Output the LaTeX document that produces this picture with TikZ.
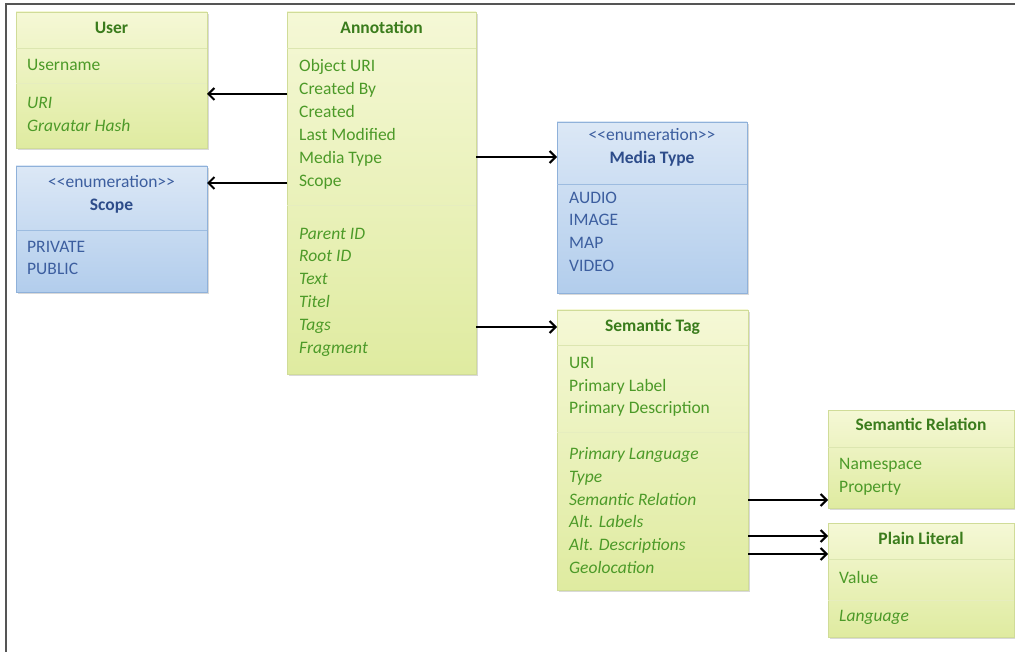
\documentclass[tikz,border=0pt]{standalone}
\usepackage{fontspec}
\setmainfont{Carlito}
\usetikzlibrary{arrows.meta,calc,shadows}
\definecolor{gtxt}{HTML}{4C9A28}
\definecolor{gttl}{HTML}{3A7C1C}
\definecolor{gtop}{HTML}{F5F8D6}
\definecolor{gbot}{HTML}{DFEBA0}
\definecolor{gborder}{HTML}{D0DC98}
\definecolor{gline}{HTML}{DCE6B0}
\definecolor{btxt}{HTML}{3C5E9F}
\definecolor{bttl}{HTML}{2D4C8A}
\definecolor{btop}{HTML}{DCE8F6}
\definecolor{bbot}{HTML}{B2CDEC}
\definecolor{bborder}{HTML}{8FB1DA}
\definecolor{bline}{HTML}{9DBCE0}
\definecolor{frame}{HTML}{555555}
\newcommand{\fsz}{\fontsize{17.5}{21}\selectfont}
\begin{document}
\begin{tikzpicture}[x=1pt,y=-1pt,
  font=\fsz,
  boxbase/.style={anchor=north west, inner sep=0pt, outer sep=0pt, line width=0.8pt,
    drop shadow={shadow xshift=1.5pt, shadow yshift=-1.8pt, opacity=0.3}},
  gbox/.style={boxbase, draw=gborder, top color=gtop, bottom color=gbot},
  bbox/.style={boxbase, draw=bborder, top color=btop, bottom color=bbot},
  txt/.style={inner sep=0pt, text height=1.55ex, text depth=0.45ex, yshift=-1pt},
  gattr/.style={txt, anchor=west, text=gtxt},
  gital/.style={gattr, font=\fsz\itshape},
  gtitle/.style={txt, anchor=center, text=gttl, font=\fsz\bfseries},
  battr/.style={txt, anchor=west, text=btxt},
  bstereo/.style={txt, anchor=center, text=btxt},
  btitle/.style={txt, anchor=center, text=bttl, font=\fsz\bfseries},
  gdiv/.style={draw=gline, line width=0.8pt},
  gfaint/.style={draw=gline!60!gtop, line width=0.6pt},
  bdiv/.style={draw=bline, line width=0.8pt},
  assoc/.style={draw=black, line width=2.6pt, -{Straight Barb[length=6pt,width=12pt,line width=2pt]}}
]
\useasboundingbox (0,0) rectangle (1015,652);
% frame
\draw[frame, line width=2pt] (6,652) -- (6,4) -- (1015,4);

% ---------- User ----------
\node[gbox, minimum width=191pt, minimum height=136pt] (user) at (16,12) {};
\draw[gdiv] (16,48) -- (207,48);
\draw[gfaint] (16,83) -- (207,83);
\node[gtitle] (userT) at (111.5,30) {User};
\node[gattr] (userA1) at (27,67) {Username};
\node[gital] (userA2) at (27,105) {URI};
\node[gital] (userA3) at (27,128) {Gravatar Hash};

% ---------- Scope ----------
\node[bbox, minimum width=191pt, minimum height=126pt] (scope) at (16,166) {};
\draw[bdiv] (16,230) -- (207,230);
\node[bstereo] (scopeS) at (111.5,184) {{<}{<}enumeration{>}{>}};
\node[btitle] (scopeT) at (111.5,207) {Scope};
\node[battr] (scopeA1) at (27,249) {PRIVATE};
\node[battr] (scopeA2) at (27,271) {PUBLIC};

% ---------- Annotation ----------
\node[gbox, minimum width=189pt, minimum height=362pt] (annotation) at (287,12) {};
\draw[gdiv] (287,48) -- (476,48);
\draw[gfaint] (287,205) -- (476,205);
\node[gtitle] (annT) at (381.5,30) {Annotation};
\node[gattr] (annA1) at (299,68) {Object URI};
\node[gattr] (annA2) at (299,91) {Created By};
\node[gattr] (annA3) at (299,114) {Created};
\node[gattr] (annA4) at (299,137) {Last Modified};
\node[gattr] (annA5) at (299,160) {Media Type};
\node[gattr] (annA6) at (299,183) {Scope};
\node[gital] (annB1) at (299,236) {Parent ID};
\node[gital] (annB2) at (299,258) {Root ID};
\node[gital] (annB3) at (299,281) {Text};
\node[gital] (annB4) at (299,304) {Titel};
\node[gital] (annB5) at (299,327) {Tags};
\node[gital] (annB6) at (299,350) {Fragment};

% ---------- Media Type ----------
\node[bbox, minimum width=190pt, minimum height=171pt] (media) at (557,122) {};
\draw[bdiv] (557,184) -- (747,184);
\node[bstereo] (mediaS) at (652,137) {{<}{<}enumeration{>}{>}};
\node[btitle] (mediaT) at (652,160) {Media Type};
\node[battr] (mediaA1) at (569,200) {AUDIO};
\node[battr] (mediaA2) at (569,222) {IMAGE};
\node[battr] (mediaA3) at (569,245) {MAP};
\node[battr] (mediaA4) at (569,268) {VIDEO};

% ---------- Semantic Tag ----------
\node[gbox, minimum width=191pt, minimum height=280pt] (semtag) at (557,310) {};
\draw[gdiv] (557,345) -- (748,345);
\draw[gfaint] (557,432) -- (748,432);
\node[gtitle] (stT) at (652.5,328) {Semantic Tag};
\node[gattr] (stA1) at (569,365) {URI};
\node[gattr] (stA2) at (569,388) {Primary Label};
\node[gattr] (stA3) at (569,410) {Primary Description};
\node[gital] (stB1) at (569,456) {Primary Language};
\node[gital] (stB2) at (569,479) {Type};
\node[gital] (stB3) at (569,502) {Semantic Relation};
\node[gital] (stB4) at (569,524) {Alt. Labels};
\node[gital] (stB5) at (569,547) {Alt. Descriptions};
\node[gital] (stB6) at (569,570) {Geolocation};

% ---------- Semantic Relation ----------
\node[gbox, minimum width=186pt, minimum height=98pt] (semrel) at (828,410) {};
\draw[gdiv] (828,447) -- (1014,447);
\node[gtitle] (srT) at (921,427) {Semantic Relation};
\node[gattr] (srA1) at (839,466) {Namespace};
\node[gattr] (srA2) at (839,489) {Property};

% ---------- Plain Literal ----------
\node[gbox, minimum width=186pt, minimum height=114pt] (plain) at (828,523) {};
\draw[gdiv] (828,559) -- (1014,559);
\draw[gfaint] (828,600) -- (1014,600);
\node[gtitle] (plT) at (921,541) {Plain Literal};
\node[gattr] (plA1) at (839,580) {Value};
\node[gital] (plA2) at (839,618) {Language};

% ---------- Connectors ----------
\draw[assoc] ($(annotation.north west)+(0,82)$) -- ($(user.north east)+(0,82)$);
\draw[assoc] ($(annotation.north west)+(0,171)$) -- ($(scope.north east)+(0,17)$);
\draw[assoc] ($(annotation.north east)+(0,145)$) -- ($(media.north west)+(0,35)$);
\draw[assoc] ($(annotation.north east)+(0,315)$) -- ($(semtag.north west)+(0,17)$);
\draw[assoc] ($(semtag.north east)+(0,190)$) -- ($(semrel.north west)+(0,90)$);
\draw[assoc] ($(semtag.north east)+(0,226)$) -- ($(plain.north west)+(0,13)$);
\draw[assoc] ($(semtag.north east)+(0,244)$) -- ($(plain.north west)+(0,31)$);
\end{tikzpicture}
\end{document}
